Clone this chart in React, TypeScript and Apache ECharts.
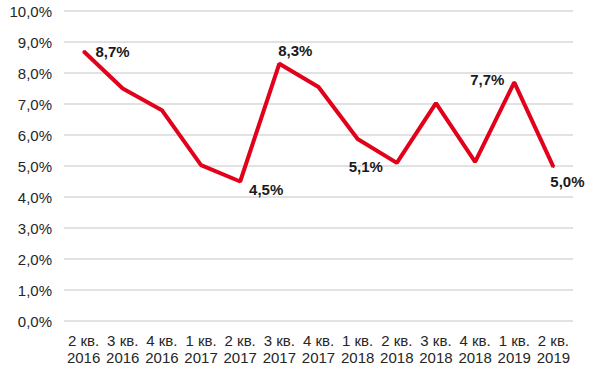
import React, { useEffect, useRef } from "react";
import * as echarts from "echarts";

const categories = [
  "2 кв.\n2016", "3 кв.\n2016", "4 кв.\n2016", "1 кв.\n2017", "2 кв.\n2017",
  "3 кв.\n2017", "4 кв.\n2017", "1 кв.\n2018", "2 кв.\n2018", "3 кв.\n2018",
  "4 кв.\n2018", "1 кв.\n2019", "2 кв.\n2019",
];
const values = [8.7, 7.5, 6.8, 5.03, 4.5, 8.3, 7.55, 5.87, 5.1, 7.03, 5.13, 7.7, 4.97];
const labeledText: (string | null)[] = [
  "8,7%", null, null, null, "4,5%", "8,3%", null, null, "5,1%", null, null, "7,7%", "5,0%",
];
const labelOffsets: ([number, number] | null)[] = [
  [29, 0], null, null, null, [26, 8], [16, -13], null, null, [-31, 4], null, null, [-27, -3], [14, 15],
];

export default function App() {
  const ref = useRef<HTMLDivElement>(null);
  useEffect(() => {
    if (!ref.current) return;
    const chart = echarts.init(ref.current, null, { renderer: "svg" });
    const font = '"Liberation Sans", Arial, sans-serif';
    chart.setOption({
      animation: false,
      backgroundColor: "#ffffff",
      grid: { left: 64, right: 27, top: 11, bottom: 50, containLabel: false },
      xAxis: {
        type: "category",
        data: categories,
        boundaryGap: true,
        axisLine: { show: false },
        axisTick: { show: false },
        axisLabel: {
          color: "#262626",
          fontFamily: font,
          fontSize: 15,
          lineHeight: 17,
          margin: 11,
          interval: 0,
        },
      },
      yAxis: {
        type: "value",
        min: 0,
        max: 10,
        interval: 1,
        axisLine: { show: false },
        axisTick: { show: false },
        splitLine: { lineStyle: { color: "#d9d9d9", width: 1.5 } },
        axisLabel: {
          color: "#262626",
          fontFamily: font,
          fontSize: 15,
          margin: 12,
          formatter: (v: number) => v.toFixed(1).replace(".", ",") + "%",
        },
      },
      series: [
        {
          type: "line",
          data: values.map((v, i) => {
            const t = labeledText[i];
            const off = labelOffsets[i];
            return {
              value: v,
              label: t
                ? {
                    show: true,
                    position: "inside",
                    offset: off,
                    formatter: t,
                    color: "#1a1a1a",
                    fontFamily: font,
                    fontSize: 15,
                    fontWeight: "bold",
                  }
                : { show: false },
            };
          }),
          symbol: "circle",
          symbolSize: 2,
          showSymbol: true,
          itemStyle: { color: "#e2001a" },
          lineStyle: { color: "#e2001a", width: 4 },
        },
      ],
    });
    return () => chart.dispose();
  }, []);
  return (
    <div
      ref={ref}
      style={{ position: "fixed", left: 0, top: 0, width: 600, height: 371 }}
    />
  );
}
